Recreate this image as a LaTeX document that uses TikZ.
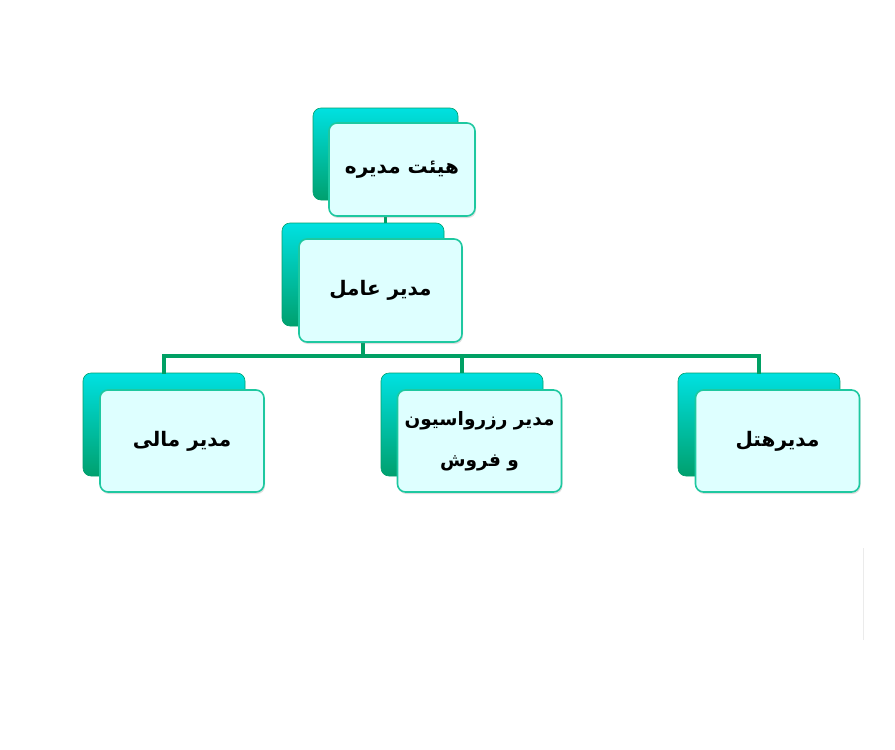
\documentclass[tikz,border=0pt]{standalone}
\usepackage{fontspec}
\newfontfamily\arabicfont[Script=Arabic]{DejaVu Sans}
\TeXXeTstate=1
\usetikzlibrary{shadows}
\definecolor{backtop}{RGB}{0,225,225}
\definecolor{backbot}{RGB}{0,160,110}
\definecolor{frontfill}{RGB}{222,255,255}
\definecolor{frontline}{RGB}{30,200,160}
\definecolor{connc}{RGB}{0,160,100}
\tikzset{
  backbox/.style={draw=backbot, line width=0.6pt, rounded corners=8pt, top color=backtop, bottom color=backbot, minimum width=162pt, minimum height=103pt, inner sep=0pt},
  frontbox/.style={draw=frontline, line width=1.6pt, fill=frontfill, rounded corners=8pt, minimum width=164pt, minimum height=102pt, inner sep=0pt, align=center, font=\arabicfont\bfseries\fontsize{20}{40}\selectfont, drop shadow={shadow xshift=1pt, shadow yshift=-2pt, opacity=0.25}},
  conn/.style={draw=connc, line width=3.5pt}
}
\begin{document}
\begin{tikzpicture}[x=1pt,y=-1pt]
\useasboundingbox (0,0) rectangle (895,750);
\fill[white] (0,0) rectangle (895,750);
% back boxes
\node[backbox, minimum width=145pt, minimum height=92pt] (b1) at (385.5,154) {};
\node[backbox] (b2) at (363,274.5) {};
\node[backbox] (b3) at (164,424.5) {};
\node[backbox] (b4) at (462,424.5) {};
\node[backbox] (b5) at (759,424.5) {};
% connectors
\coordinate (bus) at (363,356);
\draw[conn] (b1.south) -- (b1.south |- b2.north);
\draw[conn] (b2.south) -- (bus);
\draw[conn, line cap=rect] (b3.north) |- (bus);
\draw[conn] (b4.north) -- (b4.north |- bus);
\draw[conn, line cap=rect] (b5.north) |- (bus);
% front boxes
\node[frontbox, minimum width=146pt, minimum height=93pt] (f1) at (402,169.5) {\beginR هیئت مدیره\endR};
\node[frontbox, minimum width=163pt, minimum height=103pt] (f2) at (380.5,290.5) {\beginR مدیر عامل\endR};
\node[frontbox] (f3) at (182,441) {\beginR مدیر مالی\endR};
\node[frontbox, font=\arabicfont\bfseries\fontsize{18.5}{41}\selectfont] (f4) at (479.5,441) {\beginR مدیر رزرواسیون\endR\\\beginR و فروش\endR};
\node[frontbox] (f5) at (777.5,441) {\beginR مدیرهتل\endR};
% faint artifact line
\draw[black!8, line width=1pt] (863,548) -- (863,640);
\end{tikzpicture}
\end{document}
